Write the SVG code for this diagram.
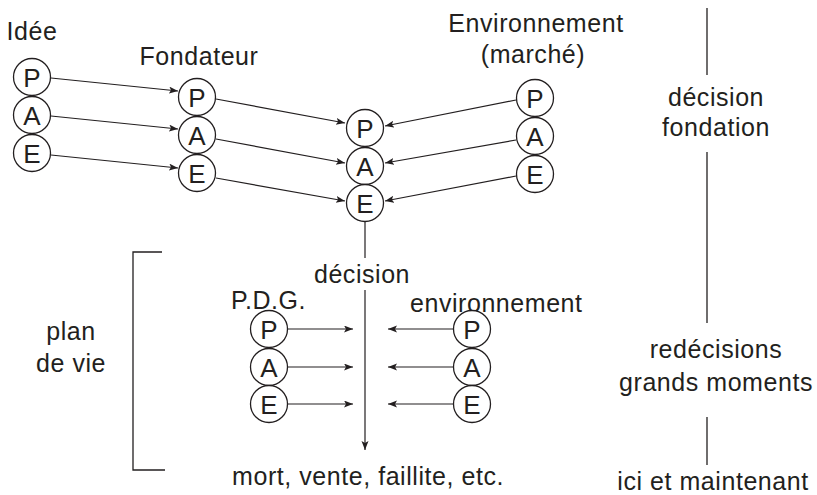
<svg xmlns="http://www.w3.org/2000/svg" width="817" height="495" viewBox="0 0 817 495">
  <style>
    text { font-family: "Liberation Sans", Arial, sans-serif; font-size: 25px; fill: #231f20; letter-spacing: 0.55px; }
    .mid { text-anchor: middle; }
    .node circle { fill: #fff; stroke: #231f20; stroke-width: 1.3; }
    .node text { text-anchor: middle; letter-spacing: 0; font-size: 26px; }
    .conn line { stroke: #231f20; stroke-width: 1.2; fill: none; }
    .arrow { marker-end: url(#head); }
    .rule { stroke: #231f20; stroke-width: 1.3; fill: none; }
  </style>
  <defs>
    <marker id="head" markerUnits="userSpaceOnUse" markerWidth="10" markerHeight="8" refX="9" refY="3.5" orient="auto">
      <path d="M0,0 L9,3.5 L0,7 L2,3.5 Z" fill="#231f20"/>
    </marker>
  </defs>

  <!-- column headings -->
  <text x="32" y="40" class="mid">Idée</text>
  <text x="199" y="65" class="mid">Fondateur</text>
  <text x="536" y="32" class="mid">Environnement</text>
  <text x="533" y="63" class="mid">(marché)</text>

  <!-- Idée column -->
  <g id="idee-p" class="node"><circle cx="32" cy="77" r="18.5"/><text x="32" y="86.5">P</text></g>
  <g id="idee-a" class="node"><circle cx="32" cy="115" r="18.5"/><text x="32" y="124.5">A</text></g>
  <g id="idee-e" class="node"><circle cx="32" cy="153" r="18.5"/><text x="32" y="162.5">E</text></g>

  <!-- Fondateur column -->
  <g id="fond-p" class="node"><circle cx="197" cy="97" r="18.5"/><text x="197" y="106.5">P</text></g>
  <g id="fond-a" class="node"><circle cx="197" cy="135" r="18.5"/><text x="197" y="144.5">A</text></g>
  <g id="fond-e" class="node"><circle cx="197" cy="173" r="18.5"/><text x="197" y="182.5">E</text></g>

  <!-- founding decision column -->
  <g id="dec-p" class="node"><circle cx="365" cy="128" r="18.5"/><text x="365" y="137.5">P</text></g>
  <g id="dec-a" class="node"><circle cx="365" cy="166" r="18.5"/><text x="365" y="175.5">A</text></g>
  <g id="dec-e" class="node"><circle cx="365" cy="203" r="18.5"/><text x="365" y="212.5">E</text></g>

  <!-- Environnement column -->
  <g id="env-p" class="node"><circle cx="535" cy="98" r="18.5"/><text x="535" y="107.5">P</text></g>
  <g id="env-a" class="node"><circle cx="535" cy="136" r="18.5"/><text x="535" y="145.5">A</text></g>
  <g id="env-e" class="node"><circle cx="535" cy="174" r="18.5"/><text x="535" y="183.5">E</text></g>

  <!-- lower block: P.D.G. and environnement -->
  <text x="231" y="309">P.D.G.</text>
  <text x="410" y="312">environnement</text>
  <text x="362" y="283" class="mid">décision</text>

  <g id="pdg-p" class="node"><circle cx="269" cy="329" r="18.5"/><text x="269" y="338.5">P</text></g>
  <g id="pdg-a" class="node"><circle cx="269" cy="367" r="18.5"/><text x="269" y="376.5">A</text></g>
  <g id="pdg-e" class="node"><circle cx="269" cy="404" r="18.5"/><text x="269" y="413.5">E</text></g>

  <g id="env2-p" class="node"><circle cx="472" cy="329" r="18.5"/><text x="472" y="338.5">P</text></g>
  <g id="env2-a" class="node"><circle cx="472" cy="367" r="18.5"/><text x="472" y="376.5">A</text></g>
  <g id="env2-e" class="node"><circle cx="472" cy="404" r="18.5"/><text x="472" y="413.5">E</text></g>

  <text x="368" y="485" class="mid">mort, vente, faillite, etc.</text>

  <!-- connectors -->
  <g id="connectors" class="conn">
    <line class="arrow" x1="51" y1="78" x2="178" y2="91"/>
    <line class="arrow" x1="51" y1="116" x2="178" y2="129"/>
    <line class="arrow" x1="51" y1="155" x2="178" y2="168"/>

    <line class="arrow" x1="216" y1="99" x2="345" y2="123"/>
    <line class="arrow" x1="216" y1="139" x2="345" y2="163"/>
    <line class="arrow" x1="216" y1="178" x2="345" y2="201"/>

    <line class="arrow" x1="516" y1="100" x2="385" y2="126"/>
    <line class="arrow" x1="516" y1="140" x2="385" y2="163"/>
    <line class="arrow" x1="516" y1="176" x2="385" y2="201"/>

    <line x1="365" y1="221.5" x2="365" y2="258"/>
    <line class="arrow" x1="365" y1="290" x2="365" y2="450"/>

    <line class="arrow" x1="287.5" y1="329" x2="353" y2="329"/>
    <line class="arrow" x1="287.5" y1="367" x2="353" y2="367"/>
    <line class="arrow" x1="287.5" y1="404" x2="353" y2="404"/>

    <line class="arrow" x1="453.5" y1="329" x2="388" y2="329"/>
    <line class="arrow" x1="453.5" y1="367" x2="388" y2="367"/>
    <line class="arrow" x1="453.5" y1="404" x2="388" y2="404"/>
  </g>

  <!-- life-plan bracket -->
  <polyline class="rule" points="162,252 133,252 133,470 165,470"/>
  <text x="71" y="340" class="mid">plan</text>
  <text x="71" y="372" class="mid">de vie</text>

  <!-- time axis on the right -->
  <line class="rule" x1="707" y1="8" x2="707" y2="75"/>
  <text x="716" y="106" class="mid">décision</text>
  <text x="716" y="136" class="mid">fondation</text>
  <line class="rule" x1="707" y1="152" x2="707" y2="323"/>
  <text x="716" y="358" class="mid">redécisions</text>
  <text x="716" y="391" class="mid">grands moments</text>
  <line class="rule" x1="707" y1="417" x2="707" y2="465"/>
  <text x="713" y="490" class="mid">ici et maintenant</text>
</svg>
